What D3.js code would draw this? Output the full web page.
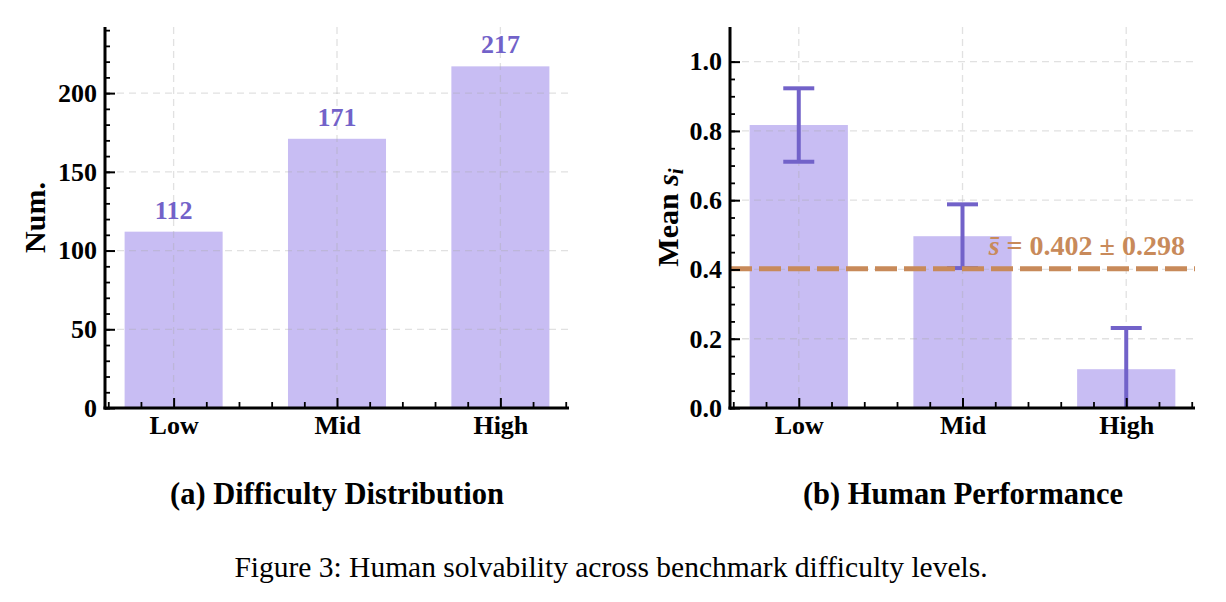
<!DOCTYPE html>
<html>
<head>
<meta charset="utf-8">
<script src="https://cdn.jsdelivr.net/npm/d3@7"></script>
<style>
  body { margin: 0; background: #fff; }
  svg { display: block; font-family: "Liberation Serif", "Times New Roman", serif; }
  .axis path, .axis line { stroke: #000; }
  .axis text { font-size: 26px; font-weight: bold; fill: #000; font-family: "Liberation Serif", serif; }
</style>
</head>
<body>
<div id="chart"></div>
<script>
/* Difficulty distribution + human performance bar charts */

const levels = ["Low", "Mid", "High"];
const counts = [112, 171, 217];
const meanScores = [0.817, 0.496, 0.112];
const scoreErrors = [0.106, 0.092, 0.119];
const overallMean = 0.402;
const overallStd = 0.298;

const countTicks = [0, 50, 100, 150, 200];
const countMinorTicks = d3.range(0, 241, 10);
const scoreTicks = [0, 0.2, 0.4, 0.6, 0.8, 1.0];
const scoreMinorTicks = d3.range(0, 21).map((i) => i * 0.05);
const xMajorTicks = [0, 1, 2];
const xMinorTicks = d3.range(-2, 13).map((i) => i * 0.2);

const width = 1226,
  height = 602,
  plotTop = 27,
  plotBottom = 408;

const barColor = "#c8bdf3";
const accent = "#7262c9";
const meanColor = "#c88a5a";

const svg = d3
  .select("#chart")
  .append("svg")
  .attr("width", width)
  .attr("height", height);

svg.append("rect").attr("width", width).attr("height", height).attr("fill", "#fff");

function drawAxes(g, x, y, yMajor, yMinor, yFormat) {
  let left = x.range()[0],
    right = x.range()[1];

  // minor ticks
  g.append("g")
    .attr("class", "axis")
    .attr("transform", `translate(${left},0)`)
    .call(d3.axisLeft(y).tickValues(yMinor).tickSize(-5).tickFormat(""))
    .call((a) => a.select(".domain").remove())
    .selectAll("line")
    .attr("stroke-width", 1.8);

  g.append("g")
    .attr("class", "axis")
    .attr("transform", `translate(0,${plotBottom})`)
    .call(
      d3
        .axisBottom(x)
        .tickValues(xMinorTicks.filter((v) => Math.abs(v - Math.round(v)) > 0.01))
        .tickSize(-6)
        .tickFormat("")
    )
    .call((a) => a.select(".domain").remove())
    .selectAll("line")
    .attr("stroke-width", 1.8);

  // major ticks + labels
  g.append("g")
    .attr("class", "axis")
    .attr("transform", `translate(${left},0)`)
    .call(d3.axisLeft(y).tickValues(yMajor).tickSize(-10).tickPadding(8).tickFormat(yFormat))
    .call((a) => a.select(".domain").remove())
    .selectAll("line")
    .attr("stroke-width", 2);

  g.append("g")
    .attr("class", "axis")
    .attr("transform", `translate(0,${plotBottom})`)
    .call(
      d3
        .axisBottom(x)
        .tickValues(xMajorTicks)
        .tickSize(-10)
        .tickPadding(8)
        .tickFormat((d) => levels[d])
    )
    .call((a) => a.select(".domain").remove())
    .call((a) => a.selectAll("text").attr("y", 8).attr("dy", "0.71em"))
    .selectAll("line")
    .attr("stroke-width", 2);

  // spines: left and bottom only
  g.append("line")
    .attr("x1", left)
    .attr("x2", left)
    .attr("y1", plotTop)
    .attr("y2", plotBottom + 1.5)
    .attr("stroke", "#000")
    .attr("stroke-width", 3);

  g.append("line")
    .attr("x1", left - 1.5)
    .attr("x2", right)
    .attr("y1", plotBottom)
    .attr("y2", plotBottom)
    .attr("stroke", "#000")
    .attr("stroke-width", 3);
}

function drawGrid(g, x, y, yMajor) {
  let left = x.range()[0],
    right = x.range()[1];
  let grid = g
    .append("g")
    .attr("stroke", "rgba(170,170,170,0.35)")
    .attr("stroke-width", 1.3)
    .attr("stroke-dasharray", "7,5");

  grid
    .selectAll(".hgrid")
    .data(yMajor.filter((v) => v > 0))
    .join("line")
    .attr("x1", left)
    .attr("x2", right)
    .attr("y1", (d) => y(d))
    .attr("y2", (d) => y(d));

  grid
    .selectAll(".vgrid")
    .data(xMajorTicks)
    .join("line")
    .attr("x1", (d) => x(d))
    .attr("x2", (d) => x(d))
    .attr("y1", plotTop)
    .attr("y2", plotBottom);
}

// ---- (a) Difficulty Distribution ----
{
  let x = d3.scaleLinear().domain([-0.42, 2.42]).range([105, 569]);
  let y = d3.scaleLinear().domain([0, 242]).range([plotBottom, plotTop]);
  let g = svg.append("g");

  g.selectAll(".bar")
    .data(counts)
    .join("rect")
    .attr("x", (d, i) => x(i - 0.3))
    .attr("width", x(0.3) - x(-0.3))
    .attr("y", (d) => y(d))
    .attr("height", (d) => y(0) - y(d))
    .attr("fill", barColor);

  drawGrid(g, x, y, countTicks);

  g.selectAll(".val")
    .data(counts)
    .join("text")
    .attr("x", (d, i) => x(i))
    .attr("y", (d) => y(d) - 13)
    .attr("text-anchor", "middle")
    .attr("font-size", 26)
    .attr("font-weight", "bold")
    .attr("fill", accent)
    .text((d) => d);

  drawAxes(g, x, y, countTicks, countMinorTicks, d3.format("d"));

  g.append("text")
    .attr("transform", `translate(45,${(plotTop + plotBottom) / 2}) rotate(-90)`)
    .attr("text-anchor", "middle")
    .attr("font-size", 30)
    .attr("font-weight", "bold")
    .text("Num.");

  g.append("text")
    .attr("x", 337)
    .attr("y", 504)
    .attr("text-anchor", "middle")
    .attr("font-size", 30.5)
    .attr("font-weight", "bold")
    .text("(a) Difficulty Distribution");
}

// ---- (b) Human Performance ----
{
  let x = d3.scaleLinear().domain([-0.42, 2.42]).range([730, 1195]);
  let y = d3.scaleLinear().domain([0, 1.1]).range([plotBottom, plotTop]);
  let g = svg.append("g");

  svg
    .append("clipPath")
    .attr("id", "plot-b")
    .append("rect")
    .attr("x", 730)
    .attr("y", plotTop)
    .attr("width", 1195 - 730)
    .attr("height", plotBottom - plotTop);

  g.selectAll(".bar")
    .data(meanScores)
    .join("rect")
    .attr("x", (d, i) => x(i - 0.3))
    .attr("width", x(0.3) - x(-0.3))
    .attr("y", (d) => y(d))
    .attr("height", (d) => y(0) - y(d))
    .attr("fill", barColor);

  drawGrid(g, x, y, scoreTicks);

  // error bars
  let err = g
    .append("g")
    .attr("clip-path", "url(#plot-b)")
    .attr("stroke", accent)
    .attr("stroke-width", 4);
  meanScores.forEach((m, i) => {
    let lo = m - scoreErrors[i],
      hi = m + scoreErrors[i];
    err.append("line").attr("x1", x(i)).attr("x2", x(i)).attr("y1", y(lo)).attr("y2", y(hi));
    [lo, hi].forEach((v) => {
      err.append("line")
        .attr("x1", x(i) - 15.5)
        .attr("x2", x(i) + 15.5)
        .attr("y1", y(v))
        .attr("y2", y(v));
    });
  });

  // overall mean line
  g.append("line")
    .attr("x1", 730)
    .attr("x2", 1195)
    .attr("y1", y(overallMean))
    .attr("y2", y(overallMean))
    .attr("stroke", meanColor)
    .attr("stroke-width", 5)
    .attr("stroke-dasharray", "22,7");

  let ann = g
    .append("text")
    .attr("x", x(1.16))
    .attr("y", y(overallMean + 0.041))
    .attr("font-size", 28)
    .attr("font-weight", "bold")
    .attr("fill", meanColor);
  ann.append("tspan").attr("font-style", "italic").text("s\u0304");
  ann.append("tspan").text(` = ${overallMean.toFixed(3)} \u00b1 ${overallStd.toFixed(3)}`);

  drawAxes(g, x, y, scoreTicks, scoreMinorTicks, d3.format(".1f"));

  let yl = g
    .append("text")
    .attr("transform", `translate(678,${(plotTop + plotBottom) / 2}) rotate(-90)`)
    .attr("text-anchor", "middle")
    .attr("font-size", 30)
    .attr("font-weight", "bold");
  yl.append("tspan").text("Mean ");
  yl.append("tspan").attr("font-style", "italic").text("s");
  yl.append("tspan").attr("font-style", "italic").attr("font-size", 21).attr("dy", "0.25em").text("i");

  g.append("text")
    .attr("x", 963)
    .attr("y", 504)
    .attr("text-anchor", "middle")
    .attr("font-size", 30.5)
    .attr("font-weight", "bold")
    .text("(b) Human Performance");
}

svg
  .append("text")
  .attr("x", 611)
  .attr("y", 577)
  .attr("text-anchor", "middle")
  .attr("font-size", 29.5)
  .text("Figure 3: Human solvability across benchmark difficulty levels.");
</script>
</body>
</html>
